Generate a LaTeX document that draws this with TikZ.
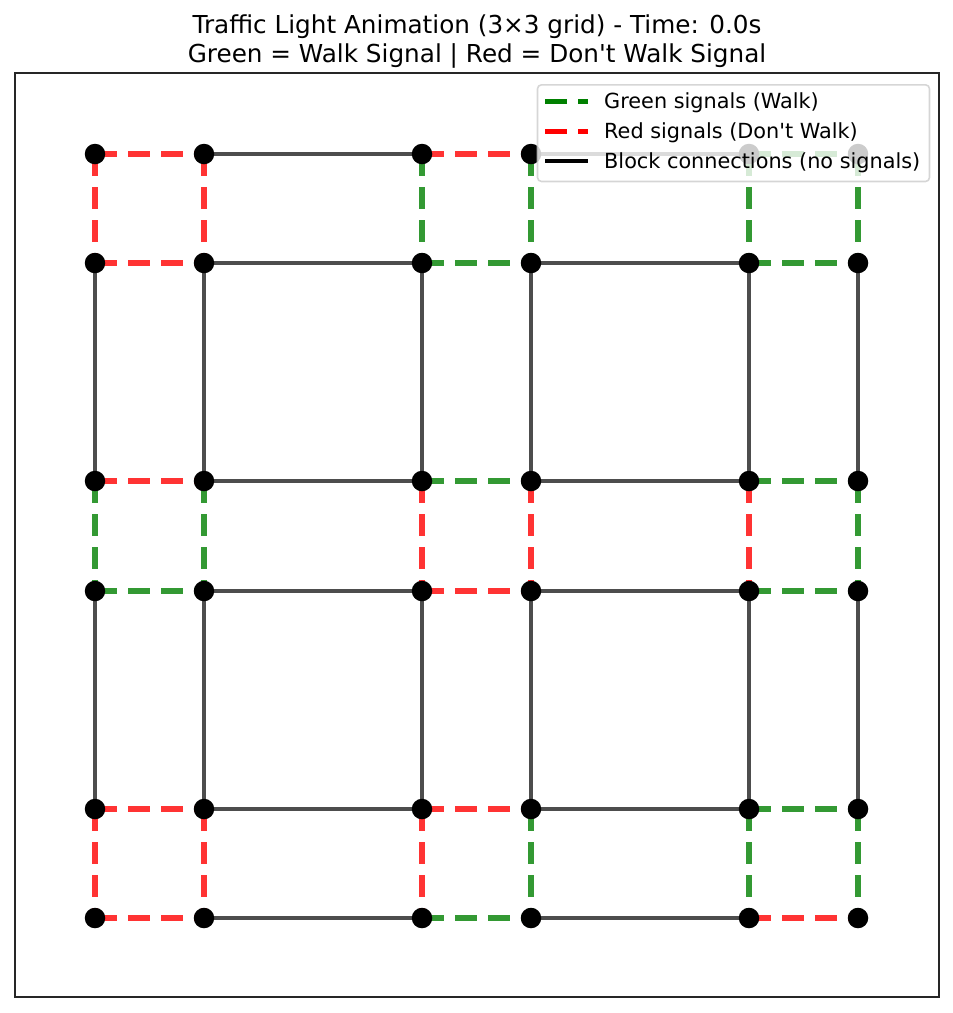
\documentclass[tikz,border=0pt]{standalone}
\usepackage{fontspec}
\setmainfont{DejaVu Sans}
\newfontfamily\plainsans{DejaVu Sans}
\pgfdeclarelayer{bg}
\pgfsetlayers{bg,main}
\definecolor{sred}{RGB}{255,51,51}
\definecolor{sgreen}{RGB}{51,153,51}
\definecolor{sgray}{RGB}{77,77,77}
\definecolor{lgreen}{RGB}{0,128,0}
\definecolor{lred}{RGB}{255,0,0}
\definecolor{lframe}{RGB}{204,204,204}
\tikzset{
  vtx/.style={circle, fill=black, minimum size=20.5pt, inner sep=0pt},
  sigdash/.style={line width=5.2pt, dash pattern=on 22.3pt off 10.7pt},
  walk/.style={sigdash, draw=sgreen},
  stop/.style={sigdash, draw=sred},
  block/.style={line width=3.8pt, draw=sgray},
  titletext/.style={anchor=base, inner sep=0pt, font=\plainsans\fontsize{24.7}{29}\selectfont},
  legtext/.style={anchor=base west, inner sep=0pt, font=\plainsans\fontsize{20.8}{25}\selectfont},
  legframe/.style={draw=lframe, line width=1.6pt, fill=white, fill opacity=0.8, draw opacity=0.8, rounded corners=4pt, inner sep=0pt},
  legwalk/.style={line width=4.6pt, draw=lgreen, dash pattern=on 22.3pt off 10.7pt},
  legstop/.style={line width=4.6pt, draw=lred, dash pattern=on 22.3pt off 10.7pt},
  legblock/.style={line width=4pt, draw=black},
  axesframe/.style={draw=black!85, line width=1.4pt, inner sep=0pt}
}
\newcommand\sigedge[3]{\draw[#1] (v#2.center) -- (v#3.center);}
\begin{document}
\begin{tikzpicture}[x=1pt, y=-1pt]
\useasboundingbox (0,0) rectangle (953,1013);
% title
\node[titletext] (title1) at (477,33) {Traffic Light Animation (3×3 grid) - Time: 0.0s};
\node[titletext] (title2) at (477,62.5) {Green = Walk Signal | Red = Don't Walk Signal};
% axes frame
\draw[axesframe] (15,73) rectangle (939,997);
% vertices
\foreach \i/\y in {0/154,1/263,2/481,3/591,4/809,5/918}{
  \foreach \j/\x in {0/95,1/204,2/422,3/531,4/749,5/858}{
    \node[vtx] (v\i\j) at (\x,\y) {};
  }
}
\begin{pgfonlayer}{bg}
% block connections
\foreach \i in {0,...,5}{
  \draw[block] (v\i1.center) -- (v\i2.center);
  \draw[block] (v\i3.center) -- (v\i4.center);
  \draw[block] (v1\i.center) -- (v2\i.center);
  \draw[block] (v3\i.center) -- (v4\i.center);
}
% intersection (0,0)
\sigedge{stop}{00}{01}\sigedge{stop}{10}{11}\sigedge{stop}{00}{10}\sigedge{stop}{01}{11}
% intersection (0,1)
\sigedge{stop}{02}{03}\sigedge{walk}{12}{13}\sigedge{walk}{02}{12}\sigedge{walk}{03}{13}
% intersection (0,2)
\sigedge{walk}{04}{05}\sigedge{walk}{14}{15}\sigedge{walk}{04}{14}\sigedge{walk}{05}{15}
% intersection (1,0)
\sigedge{stop}{20}{21}\sigedge{walk}{30}{31}\sigedge{walk}{20}{30}\sigedge{walk}{21}{31}
% intersection (1,1)
\sigedge{walk}{22}{23}\sigedge{stop}{32}{33}\sigedge{stop}{22}{32}\sigedge{stop}{23}{33}
% intersection (1,2)
\sigedge{walk}{24}{25}\sigedge{walk}{34}{35}\sigedge{stop}{24}{34}\sigedge{walk}{25}{35}
% intersection (2,0)
\sigedge{stop}{40}{41}\sigedge{stop}{50}{51}\sigedge{stop}{40}{50}\sigedge{stop}{41}{51}
% intersection (2,1)
\sigedge{stop}{42}{43}\sigedge{walk}{52}{53}\sigedge{stop}{42}{52}\sigedge{walk}{43}{53}
% intersection (2,2)
\sigedge{walk}{44}{45}\sigedge{stop}{54}{55}\sigedge{walk}{44}{54}\sigedge{walk}{45}{55}
\end{pgfonlayer}
% legend
\node[legframe, anchor=north west, minimum width=392pt, minimum height=96.7pt] (legend) at (536.7,84) {};
\coordinate (g1) at (545,101.7); \coordinate (g2) at (588,101.7);
\coordinate (r1) at (545,131.5); \coordinate (r2) at (588,131.5);
\coordinate (b1) at (545,161.3); \coordinate (b2) at (588,161.3);
\draw[legwalk] (g1) -- (g2);
\draw[legstop] (r1) -- (r2);
\draw[legblock] (b1) -- (b2);
\node[legtext] (lt1) at (604,108.6) {Green signals (Walk)};
\node[legtext] (lt2) at (604,138.6) {Red signals (Don't Walk)};
\node[legtext] (lt3) at (604,168.6) {Block connections (no signals)};
\end{tikzpicture}
\end{document}
